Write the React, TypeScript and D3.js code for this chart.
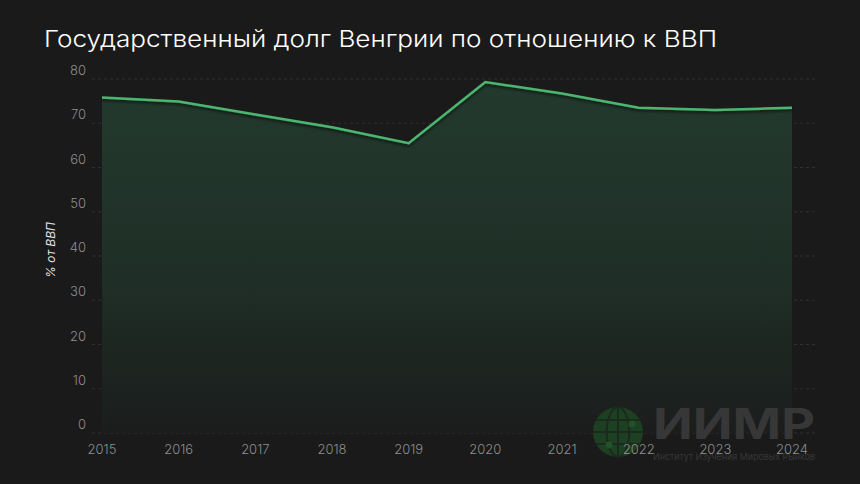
import * as d3 from "d3";
import React, { useEffect, useRef } from "react";

// Госдолг Венгрии, % ВВП
const years = [2015, 2016, 2017, 2018, 2019, 2020, 2021, 2022, 2023, 2024];
const debt = [75.8, 74.9, 72.0, 69.1, 65.5, 79.3, 76.7, 73.5, 73.0, 73.5];
const yTicks = [0, 10, 20, 30, 40, 50, 60, 70, 80];

const title = "Государственный долг Венгрии по отношению к ВВП";
const yLabel = "% от ВВП";

const W = 860,
	H = 484;

const App = (): JSX.Element => {
	const svgRef = useRef<SVGSVGElement>(null);

	useEffect(() => {
		const svg = d3.select(svgRef.current);
		svg.selectAll("*").remove();

		const font = "Inter, 'Noto Sans', sans-serif";

		svg.append("rect").attr("width", W).attr("height", H).attr("fill", "#1a1a1a");

		const x = d3.scaleLinear().domain([2015, 2024]).range([102, 792]);
		const y = d3.scaleLinear().domain([0, 80]).range([433, 79]);

		const defs = svg.append("defs");
		const grad = defs
			.append("linearGradient")
			.attr("id", "areaFill")
			.attr("x1", 0)
			.attr("y1", 0)
			.attr("x2", 0)
			.attr("y2", 1);
		grad.append("stop").attr("offset", "0%").attr("stop-color", "#23392e");
		grad.append("stop").attr("offset", "55%").attr("stop-color", "#1f2f27");
		grad.append("stop").attr("offset", "100%").attr("stop-color", "#1b1d1c");

		const shadow = defs
			.append("filter")
			.attr("id", "shadow")
			.attr("x", "-5%")
			.attr("y", "-50%")
			.attr("width", "110%")
			.attr("height", "200%");
		shadow
			.append("feDropShadow")
			.attr("dx", 0)
			.attr("dy", 2)
			.attr("stdDeviation", 1.5)
			.attr("flood-color", "#000")
			.attr("flood-opacity", 0.6);

		// gridlines
		svg.append("g")
			.selectAll("line")
			.data(yTicks)
			.join("line")
			.attr("x1", 92)
			.attr("x2", 817)
			.attr("y1", (d) => y(d))
			.attr("y2", (d) => y(d))
			.attr("stroke", "#313131")
			.attr("stroke-width", 1)
			.attr("stroke-dasharray", "3,3");

		// area
		const area = d3
			.area<number>()
			.x((_, i) => x(years[i]))
			.y0(y(0))
			.y1((d) => y(d));
		svg.append("path").datum(debt).attr("d", area).attr("fill", "url(#areaFill)");

		// line
		const line = d3
			.line<number>()
			.x((_, i) => x(years[i]))
			.y((d) => y(d));
		svg.append("path")
			.datum(debt)
			.attr("d", line)
			.attr("fill", "none")
			.attr("stroke", "#4cb66f")
			.attr("stroke-width", 2.5)
			.attr("filter", "url(#shadow)");

		// y tick labels
		svg.append("g")
			.selectAll("text")
			.data(yTicks)
			.join("text")
			.attr("x", 86)
			.attr("y", (d) => y(d) - 4)
			.attr("text-anchor", "end")
			.attr("fill", "#8e8e8e")
			.attr("font-family", font)
			.attr("font-weight", 300)
			.attr("font-size", 13)
			.text((d) => d);

		// watermark
		const wm = svg.append("g");
		const gx = 618,
			gy = 432,
			gr = 25;
		wm.append("circle").attr("cx", gx).attr("cy", gy).attr("r", gr).attr("fill", "#1d3f22");
		wm.append("ellipse")
			.attr("cx", gx)
			.attr("cy", gy)
			.attr("rx", gr * 0.45)
			.attr("ry", gr)
			.attr("fill", "none")
			.attr("stroke", "#1a2a1c")
			.attr("stroke-width", 2);
		[-12, 0, 12].forEach((dy) => {
			const hw = Math.sqrt(gr * gr - dy * dy);
			wm.append("line")
				.attr("x1", gx - hw)
				.attr("x2", gx + hw)
				.attr("y1", gy + dy)
				.attr("y2", gy + dy)
				.attr("stroke", "#1a2a1c")
				.attr("stroke-width", 2);
		});
		wm.append("line")
			.attr("x1", gx)
			.attr("x2", gx)
			.attr("y1", gy - gr)
			.attr("y2", gy + gr)
			.attr("stroke", "#1a2a1c")
			.attr("stroke-width", 2);
		wm.append("circle").attr("cx", gx + 14).attr("cy", gy - 8).attr("r", 3.5).attr("fill", "#24512a");
		wm.append("circle").attr("cx", gx - 9).attr("cy", gy + 13).attr("r", 3.5).attr("fill", "#24512a");
		wm.append("text")
			.attr("x", 653)
			.attr("y", 439)
			.attr("fill", "#373737")
			.attr("font-family", font)
			.attr("font-weight", 700)
			.attr("font-size", 42)
			.attr("textLength", 162)
			.attr("lengthAdjust", "spacingAndGlyphs")
			.text("ИИМР");
		wm.append("text")
			.attr("x", 653)
			.attr("y", 460)
			.attr("fill", "#373737")
			.attr("font-family", font)
			.attr("font-size", 9.5)
			.attr("textLength", 162)
			.attr("lengthAdjust", "spacingAndGlyphs")
			.text("Институт Изучения Мировых Рынков");

		// x tick labels
		svg.append("g")
			.selectAll("text")
			.data(years)
			.join("text")
			.attr("x", (d) => x(d))
			.attr("y", 454)
			.attr("text-anchor", "middle")
			.attr("fill", "#8e8e8e")
			.attr("font-family", font)
			.attr("font-weight", 300)
			.attr("font-size", 13)
			.text((d) => d);

		// y axis label
		svg.append("text")
			.attr("transform", `translate(55,250) rotate(-90)`)
			.attr("text-anchor", "middle")
			.attr("fill", "#e0e0e0")
			.attr("font-family", font)
			.attr("font-size", 12)
			.attr("font-style", "italic")
			.text(yLabel);

		// title
		svg.append("text")
			.attr("x", 44)
			.attr("y", 47)
			.attr("fill", "#ffffff")
			.attr("font-family", font)
			.attr("font-weight", 300)
			.attr("font-size", 23)
			.attr("textLength", 673)
			.attr("lengthAdjust", "spacingAndGlyphs")
			.text(title);
	}, []);

	return (
		<svg
			ref={svgRef}
			width={W}
			height={H}
			style={{ position: "absolute", left: 0, top: 0, display: "block" }}
		/>
	);
};

export default App;
